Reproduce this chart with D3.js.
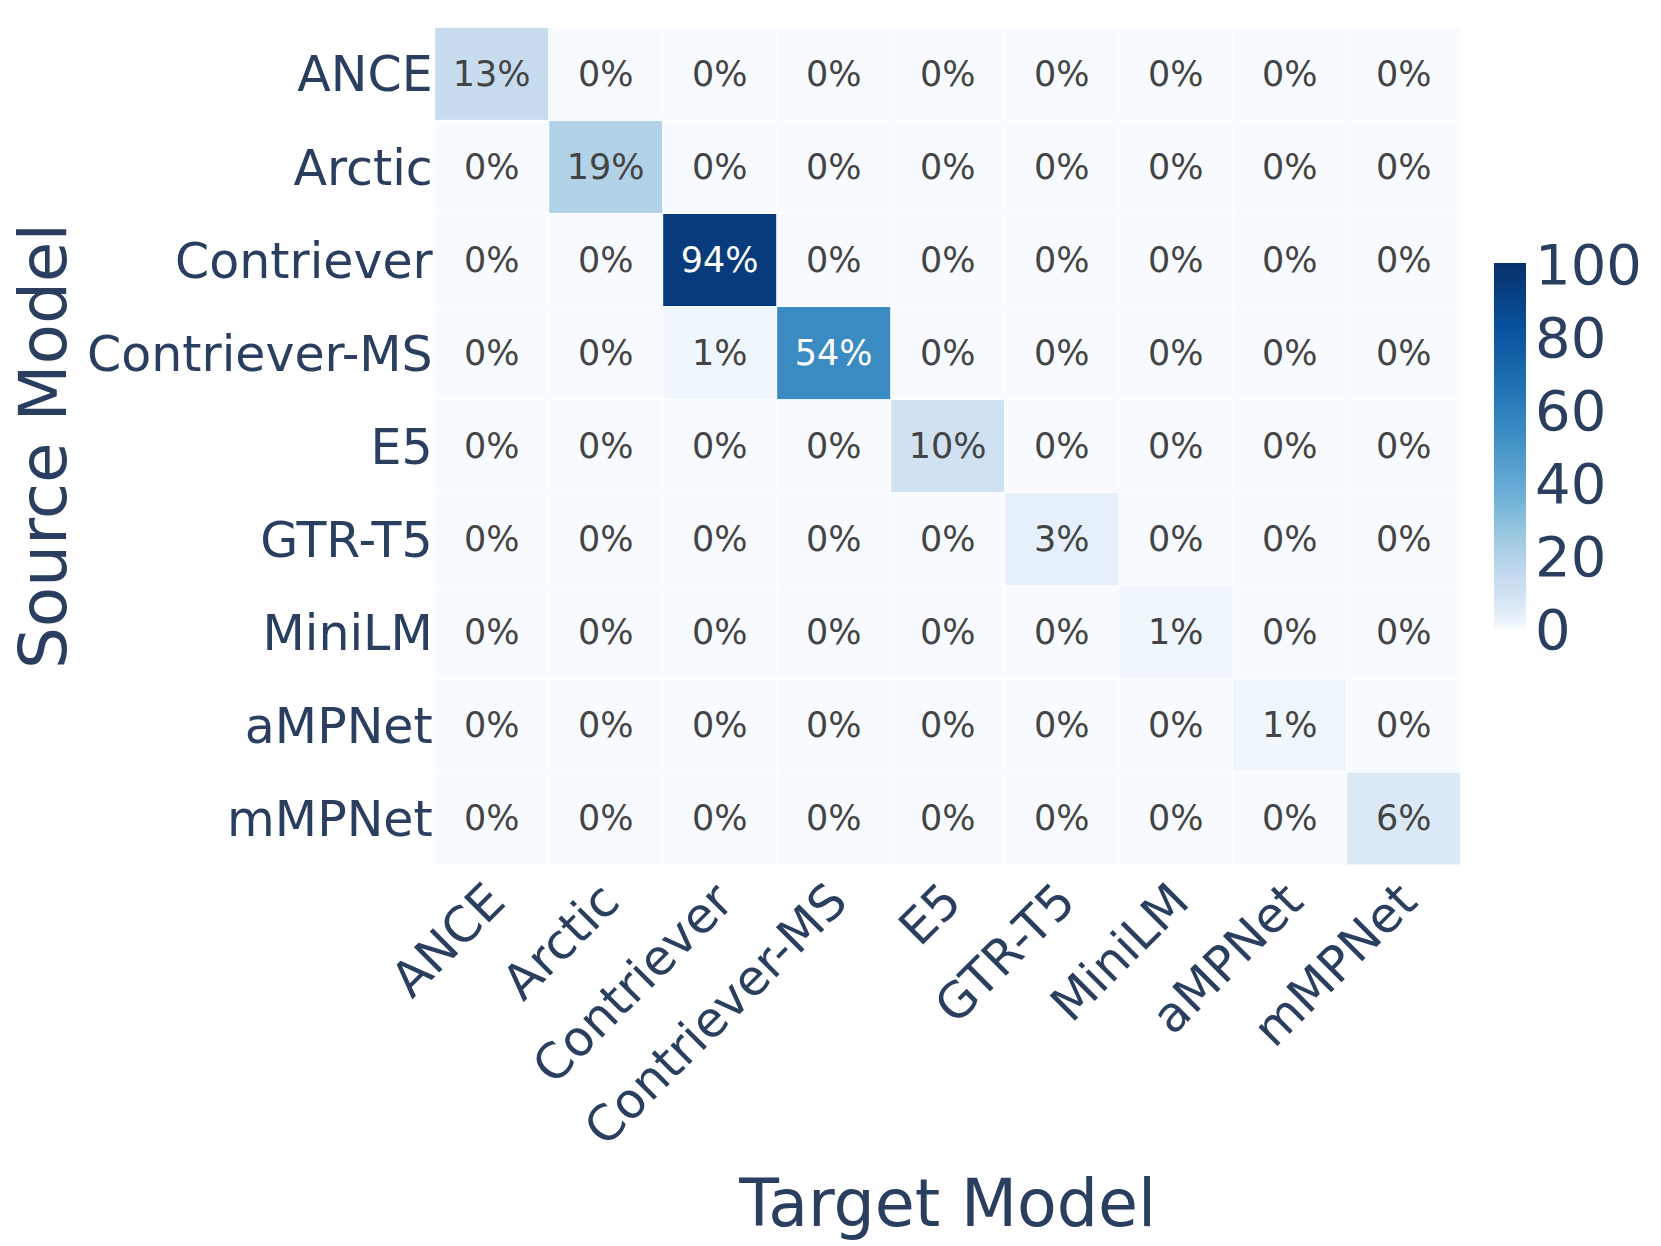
<!DOCTYPE html>
<html>
<head>
<meta charset="utf-8">
<script src="https://cdn.jsdelivr.net/npm/d3@7"></script>
<style>
  html, body { margin: 0; padding: 0; background: #fff; }
  svg { display: block; font-family: "DejaVu Sans", Verdana, sans-serif; }
</style>
</head>
<body>
<svg id="chart" width="1661" height="1246"></svg>
<script>
// ---- data ----
const targetModels = ["ANCE","Arctic","Contriever","Contriever-MS","E5","GTR-T5","MiniLM","aMPNet","mMPNet"];
const sourceModels = ["ANCE","Arctic","Contriever","Contriever-MS","E5","GTR-T5","MiniLM","aMPNet","mMPNet"];
const rowANCE         = [13, 0, 0, 0, 0, 0, 0, 0, 0];
const rowArctic       = [0, 19, 0, 0, 0, 0, 0, 0, 0];
const rowContriever   = [0, 0, 94, 0, 0, 0, 0, 0, 0];
const rowContrieverMS = [0, 0, 1, 54, 0, 0, 0, 0, 0];
const rowE5           = [0, 0, 0, 0, 10, 0, 0, 0, 0];
const rowGTRT5        = [0, 0, 0, 0, 0, 3, 0, 0, 0];
const rowMiniLM       = [0, 0, 0, 0, 0, 0, 1, 0, 0];
const rowAMPNet       = [0, 0, 0, 0, 0, 0, 0, 1, 0];
const rowMMPNet       = [0, 0, 0, 0, 0, 0, 0, 0, 6];
const values = [rowANCE, rowArctic, rowContriever, rowContrieverMS, rowE5, rowGTRT5, rowMiniLM, rowAMPNet, rowMMPNet];
const colorbarTicks = [0, 20, 40, 60, 80, 100];
const xTitle = "Target Model";
const yTitle = "Source Model";

// ---- layout ----
const svg = d3.select("#chart");
const X0 = 434.7, X1 = 1460.7, Y0 = 27.3, Y1 = 865;
const textColor = "#2a3f5f";

const blues = ["rgb(247,251,255)","rgb(222,235,247)","rgb(198,219,239)","rgb(158,202,225)",
               "rgb(107,174,214)","rgb(66,146,198)","rgb(33,113,181)","rgb(8,81,156)","rgb(8,48,107)"];
const ramp = d3.scaleLinear()
  .domain(blues.map((_, i) => i / (blues.length - 1)))
  .range(blues)
  .interpolate(d3.interpolateRgb)
  .clamp(true);
const norm = d3.scalePow().exponent(0.7).domain([0, 100]).range([0, 1]).clamp(true);
const color = v => ramp(norm(v));

const x = d3.scaleBand().domain(targetModels).range([X0, X1]).padding(0);
const y = d3.scaleBand().domain(sourceModels).range([Y0, Y1]).padding(0);

const cells = [];
sourceModels.forEach((s, i) => targetModels.forEach((t, j) => cells.push({s, t, v: values[i][j]})));

const gap = 0.5;
svg.append("g").selectAll("rect").data(cells).join("rect")
  .attr("x", d => x(d.t) + gap)
  .attr("y", d => y(d.s) + gap)
  .attr("width", x.bandwidth() - 2 * gap)
  .attr("height", y.bandwidth() - 2 * gap)
  .attr("fill", d => color(d.v));

svg.append("g").selectAll("text").data(cells).join("text")
  .attr("x", d => x(d.t) + x.bandwidth() / 2)
  .attr("y", d => y(d.s) + y.bandwidth() / 2)
  .attr("text-anchor", "middle")
  .attr("dominant-baseline", "central")
  .attr("font-size", 35)
  .attr("fill", d => d.v > 50 ? "#ffffff" : "#444444")
  .text(d => d.v + "%");

// y axis
const yAxis = svg.append("g").attr("transform", `translate(${X0 - 2},0)`)
  .call(d3.axisLeft(y).tickSize(0).tickPadding(0));
yAxis.select(".domain").remove();
yAxis.selectAll("text").attr("font-size", 49).attr("fill", textColor)
  .attr("font-family", "DejaVu Sans").attr("dy", "0.36em");

// x axis
const xAxis = svg.append("g").attr("transform", `translate(0,${Y1})`)
  .call(d3.axisBottom(x).tickSize(0).tickPadding(0));
xAxis.select(".domain").remove();
xAxis.selectAll("text")
  .attr("font-size", 49).attr("fill", textColor).attr("font-family", "DejaVu Sans")
  .attr("text-anchor", "end")
  .attr("dy", null).attr("y", 0)
  .attr("transform", "translate(16,39) rotate(-45)");

// axis titles
svg.append("text")
  .attr("transform", `translate(66,${(Y0 + Y1) / 2}) rotate(-90)`)
  .attr("text-anchor", "middle")
  .attr("font-size", 66).attr("fill", textColor)
  .text(yTitle);

svg.append("text")
  .attr("x", (X0 + X1) / 2).attr("y", 1226)
  .attr("text-anchor", "middle")
  .attr("font-size", 65).attr("fill", textColor)
  .text(xTitle);

// colorbar
const CB = {x: 1494, w: 32, top: 263, bottom: 628};
const defs = svg.append("defs");
const grad = defs.append("linearGradient").attr("id", "cbgrad")
  .attr("x1", 0).attr("y1", 1).attr("x2", 0).attr("y2", 0);
d3.range(0, 101, 2).forEach(v => grad.append("stop").attr("offset", v / 100).attr("stop-color", color(v)));
svg.append("rect").attr("x", CB.x).attr("y", CB.top).attr("width", CB.w)
  .attr("height", CB.bottom - CB.top).attr("fill", "url(#cbgrad)");

const cbScale = d3.scaleLinear().domain([0, 100]).range([CB.bottom, CB.top]);
const cbAxis = svg.append("g").attr("transform", `translate(${CB.x + CB.w + 9},0)`)
  .call(d3.axisRight(cbScale).tickValues(colorbarTicks).tickSize(0).tickPadding(0));
cbAxis.select(".domain").remove();
cbAxis.selectAll("text").attr("font-size", 56).attr("fill", textColor)
  .attr("font-family", "DejaVu Sans").attr("dy", "0.36em");
</script>
</body>
</html>
